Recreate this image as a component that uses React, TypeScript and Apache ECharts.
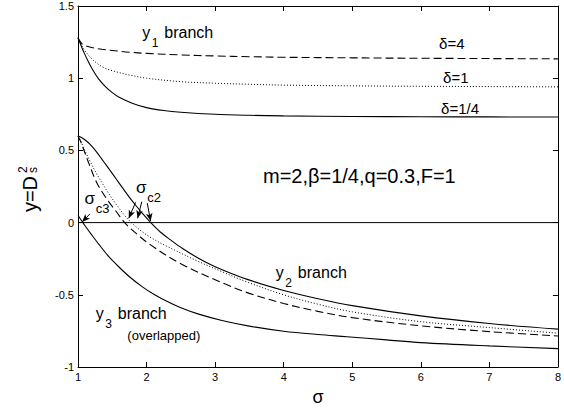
import React, { useEffect, useRef } from "react";
import * as echarts from "echarts";

// y1 branch (three delta values)
const y1Delta4: [number, number][] = [
  [1, 1.28], [1.03, 1.255], [1.06, 1.238], [1.1, 1.226], [1.2, 1.212], [1.35, 1.2], [1.5, 1.192],
  [1.75, 1.18], [2, 1.172], [2.5, 1.161], [3, 1.154], [3.5, 1.149], [4, 1.145], [5, 1.141],
  [6, 1.138], [7, 1.136], [8, 1.134],
];
const y1Delta1: [number, number][] = [
  [1, 1.28], [1.05, 1.23], [1.1, 1.19], [1.2, 1.135], [1.3, 1.095], [1.4, 1.068], [1.56, 1.044],
  [1.75, 1.022], [2, 1.0], [2.5, 0.976], [3, 0.965], [3.5, 0.958], [4, 0.952], [5, 0.947],
  [6, 0.944], [7, 0.942], [8, 0.94],
];
const y1DeltaQuarter: [number, number][] = [
  [1, 1.28], [1.05, 1.22], [1.1, 1.165], [1.15, 1.115], [1.2, 1.07], [1.3, 0.995], [1.4, 0.942],
  [1.5, 0.9], [1.6, 0.868], [1.8, 0.825], [2, 0.796], [2.25, 0.776], [2.5, 0.764], [3, 0.75],
  [3.5, 0.743], [4, 0.739], [5, 0.735], [6, 0.733], [7, 0.732], [8, 0.731],
];

// y2 branch (three delta values)
const y2Delta4: [number, number][] = [
  [1, 0.6], [1.04, 0.56], [1.08, 0.51], [1.17, 0.396], [1.27, 0.28], [1.41, 0.17], [1.56, 0.075],
  [1.68, 0.0], [1.8, -0.055], [2.04, -0.148], [2.5, -0.285], [3.15, -0.426], [3.5, -0.49],
  [4, -0.56], [4.5, -0.615], [5, -0.658], [6, -0.715], [7, -0.755], [8, -0.785],
];
const y2Delta1: [number, number][] = [
  [1, 0.6], [1.04, 0.565], [1.08, 0.52], [1.17, 0.43], [1.27, 0.34], [1.37, 0.26], [1.47, 0.185],
  [1.56, 0.125], [1.68, 0.05], [1.78, 0.0], [1.9, -0.05], [2.05, -0.1], [2.28, -0.16],
  [2.76, -0.27], [3.1, -0.34], [3.43, -0.405], [4, -0.5], [4.5, -0.565], [5, -0.618],
  [6, -0.686], [7, -0.727], [8, -0.766],
];
const y2DeltaQuarter: [number, number][] = [
  [1, 0.6], [1.05, 0.59], [1.1, 0.574], [1.17, 0.545], [1.27, 0.49], [1.37, 0.425], [1.47, 0.36],
  [1.56, 0.3], [1.65, 0.24], [1.75, 0.175], [1.85, 0.115], [1.95, 0.058], [2.06, 0], [2.2, -0.065],
  [2.35, -0.12], [2.52, -0.178], [2.75, -0.245], [3, -0.305], [3.48, -0.395], [4, -0.47],
  [4.5, -0.527], [5, -0.575], [6, -0.646], [7, -0.699], [8, -0.738],
];

// y3 branch (curves overlapped)
const y3Branch: [number, number][] = [
  [1, 0.05], [1.05, 0.015], [1.1, -0.02], [1.2, -0.085], [1.32, -0.16], [1.44, -0.23], [1.56, -0.29],
  [1.75, -0.375], [1.94, -0.445], [2.1, -0.495], [2.28, -0.542], [2.5, -0.59], [2.76, -0.634],
  [3.1, -0.678], [3.48, -0.715], [4, -0.752], [4.5, -0.775], [4.92, -0.79], [5.5, -0.812],
  [6, -0.831], [7, -0.854], [8, -0.873],
];

// zero reference line
const zeroLine: [number, number][] = [[1, 0], [8, 0]];

// critical-point arrows: [tail, tip]
const sigmaC2Arrows: [number, number][][] = [
  [[1.84, 0.14], [1.74, 0.03]],
  [[1.93, 0.145], [1.87, 0.03]],
  [[2.01, 0.135], [2.06, 0.01]],
];
const sigmaC3Arrows: [number, number][][] = [[[1.173, 0.06], [1.06, 0.004]]];

const xRange = [1, 8];
const yRange = [-1, 1.5];

export default function App() {
  const ref = useRef<HTMLDivElement>(null);

  useEffect(() => {
    if (!ref.current) return;
    const chart = echarts.init(ref.current, null, { renderer: "svg" });
    const FONT = "'Liberation Sans', Arial, Helvetica, sans-serif";
    const black = "#000";

    const curve = (name: string, data: [number, number][], type: any, width = 1.1) => ({
      type: "line",
      name,
      data,
      xAxisIndex: 0,
      yAxisIndex: 0,
      showSymbol: false,
      symbol: "none",
      smooth: 0.35,
      silent: true,
      lineStyle: { color: black, width, type },
    });

    const dashed = [8, 4];
    const dotted = [1, 2];

    const arrowPairs = [...sigmaC2Arrows, ...sigmaC3Arrows].map(([tail, tip]) => [
      { coord: tail, symbol: "none" },
      { coord: tip, symbol: "arrow", symbolSize: [5, 8] },
    ]);

    const axisCommon = {
      type: "value",
      splitLine: { show: false },
      axisLine: { show: true, onZero: false, lineStyle: { color: black, width: 1 } },
      axisTick: { show: true, inside: true, length: 5, lineStyle: { color: black, width: 1 } },
    };

    chart.setOption({
      animation: false,
      backgroundColor: "#fff",
      grid: { left: 78, right: 3, top: 6, bottom: 44 },
      xAxis: [
        {
          ...axisCommon,
          min: xRange[0],
          max: xRange[1],
          interval: 1,
          position: "bottom",
          axisLabel: { color: black, fontSize: 11, fontFamily: FONT, margin: 4 },
          name: "σ",
          nameLocation: "middle",
          nameGap: 21,
          nameTextStyle: { color: black, fontSize: 18, fontFamily: FONT },
        },
        {
          ...axisCommon,
          min: xRange[0],
          max: xRange[1],
          interval: 1,
          position: "top",
          axisLabel: { show: false },
        },
      ],
      yAxis: [
        {
          ...axisCommon,
          min: yRange[0],
          max: yRange[1],
          interval: 0.5,
          position: "left",
          axisLabel: { color: black, fontSize: 11, fontFamily: FONT, margin: 4 },
        },
        {
          ...axisCommon,
          min: yRange[0],
          max: yRange[1],
          interval: 0.5,
          position: "right",
          axisLabel: { show: false },
        },
      ],
      series: [
        curve("y1 δ=4", y1Delta4, dashed),
        curve("y1 δ=1", y1Delta1, dotted, 1),
        curve("y1 δ=1/4", y1DeltaQuarter, "solid"),
        curve("y2 δ=4", y2Delta4, dashed),
        curve("y2 δ=1", y2Delta1, dotted, 1),
        curve("y2 δ=1/4", y2DeltaQuarter, "solid"),
        curve("y3", y3Branch, "solid"),
        {
          type: "line",
          name: "zero",
          data: zeroLine,
          xAxisIndex: 0,
          yAxisIndex: 0,
          showSymbol: false,
          symbol: "none",
          silent: true,
          lineStyle: { color: black, width: 1, type: "solid" },
          markLine: {
            silent: true,
            symbol: ["none", "none"],
            label: { show: false },
            lineStyle: { color: black, width: 1, type: "solid" },
            itemStyle: { color: black },
            data: arrowPairs,
          },
        },
      ],
    });

    const P = (x: number, y: number) =>
      chart.convertToPixel({ xAxisIndex: 0, yAxisIndex: 0 }, [x, y]) as number[];

    const txt = (text: string, x: number, y: number, fontSize: number, align = "left") => ({
      type: "text",
      x,
      y,
      silent: true,
      style: { text, fontSize, fontFamily: FONT, fill: black, align, verticalAlign: "middle" },
    });

    const branchLabel = (at: number[], sub: string) => {
      const [x, y] = P(at[0], at[1]);
      return [
        txt("y", x, y, 16),
        txt(sub, x + 9.5, y + 10.5, 12),
        txt("branch", x + 22, y, 16),
      ];
    };

    const sigmaLabel = (at: number[], sub: string) => {
      const [x, y] = P(at[0], at[1]);
      return [txt("σ", x, y, 17, "center"), txt(sub, x + 6, y + 10, 13)];
    };

    const place = (text: string, at: number[], fs: number) => {
      const [x, y] = P(at[0], at[1]);
      return txt(text, x, y, fs);
    };

    const elements: any[] = [
      ...branchLabel([1.938, 1.319], "1"),
      ...branchLabel([3.886, -0.343], "2"),
      ...branchLabel([1.26, -0.628], "3"),
      place("(overlapped)", [1.72, -0.785], 13),
      place("δ=4", [6.267, 1.243], 15),
      place("δ=1", [6.325, 1.007], 15),
      place("δ=1/4", [6.296, 0.788], 15),
      place("m=2,β=1/4,q=0.3,F=1", [3.698, 0.323], 20),
      ...sigmaLabel([1.924, 0.24], "c2"),
      ...sigmaLabel([1.173, 0.17], "c3"),
      {
        type: "group",
        x: 29.7,
        y: 194,
        rotation: Math.PI / 2,
        children: [
          txt("y=D", 0, 0, 20, "center"),
          txt("2", 21, -7.2, 12),
          txt("s", 21, 3.3, 12),
        ],
      },
    ];

    chart.setOption({ graphic: { elements } });

    return () => chart.dispose();
  }, []);

  return (
    <div
      ref={ref}
      style={{ position: "fixed", left: 0, top: 0, width: 564, height: 411, background: "#fff" }}
    />
  );
}
